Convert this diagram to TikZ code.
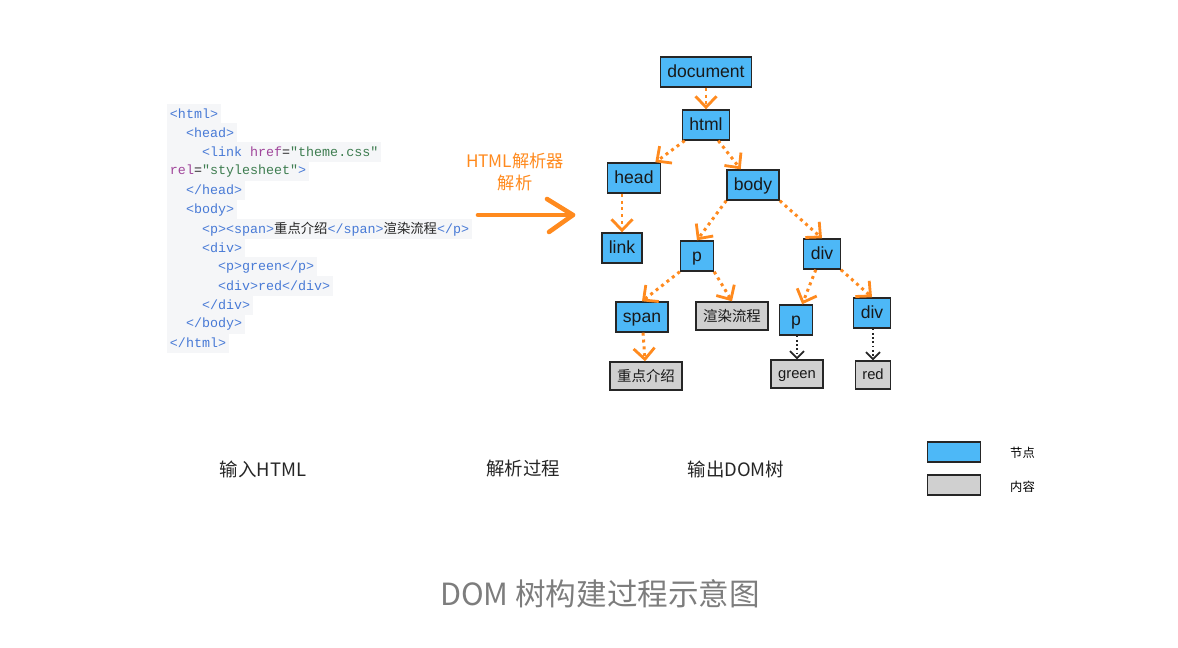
\documentclass[tikz,border=0pt]{standalone}
\usepackage{fontspec}
\setmainfont{Liberation Sans}
\setmonofont{Liberation Mono}
\newfontfamily\cjk{Noto Sans CJK SC}
\usetikzlibrary{arrows.meta}
\usetikzlibrary{positioning}
\usepackage{xcolor}

\definecolor{nodeblue}{RGB}{77,184,247}
\definecolor{contgray}{RGB}{208,208,208}
\definecolor{arrorange}{RGB}{255,138,30}
\definecolor{codebg}{RGB}{245,246,248}
\definecolor{tagblue}{RGB}{72,122,214}
\definecolor{attrpurple}{RGB}{160,70,155}
\definecolor{strgreen}{RGB}{62,125,80}
\definecolor{capgray}{RGB}{125,125,125}

\newcommand{\ctag}[1]{\textcolor{tagblue}{#1}}
\newcommand{\cattr}[1]{\textcolor{attrpurple}{#1}}
\newcommand{\cstr}[1]{\textcolor{strgreen}{#1}}
\newcommand{\ind}{\phantom{xx}}

\tikzset{
  dom/.style={draw=black!85, line width=0.8pt, fill=nodeblue, minimum height=0.6cm,
    minimum width=0.66cm, inner xsep=0.14cm, inner ysep=2pt, text=black!90,
    text height=8.6pt, text depth=2pt,
    font=\fontsize{10}{12}\selectfont},
  cont/.style={dom, fill=contgray, minimum height=0.56cm,
    text height=7pt, text depth=0.6pt,
    font=\cjk\fontsize{8.2}{10}\selectfont},
  contlat/.style={cont, text height=6.6pt, text depth=2pt,
    font=\fontsize{8.4}{10}\selectfont},
  legbox/.style={minimum width=1.06cm, minimum height=0.4cm, text height=0pt, text depth=0pt},
  oarr/.style={draw=arrorange, line width=1.7pt, dash pattern=on 1.7pt off 2.2pt,
    -{Straight Barb[length=2.2mm,width=4.2mm,line width=1.6pt]}},
  barr/.style={draw=black!85, line width=1pt, dash pattern=on 1pt off 1.4pt,
    -{Straight Barb[length=1.4mm,width=2.8mm,line width=1pt]}},
  code/.style={anchor=west, fill=codebg, inner xsep=1.5pt, inner ysep=0pt,
    minimum height=0.39cm, text=black!85, font=\ttfamily\fontsize{7.6}{9}\selectfont},
  lbl/.style={font=\cjk\fontsize{10.5}{12}\selectfont, text=black!85}
}

\begin{document}
\begin{tikzpicture}[x=0.02cm, y=-0.02cm]
  \useasboundingbox (0,0) rectangle (1178,648);

  % HTML 源码
  \node[code] (c1)  at (167,114) {\ctag{<html>}};
  \node[code] (c2)  at (167,133) {\ind\ctag{<head>}};
  \node[code] (c3)  at (167,152) {\ind\ind\ctag{<link }\cattr{href}=\cstr{"theme.css"}};
  \node[code] (c4)  at (167,171) {\cattr{rel}=\cstr{"stylesheet"}\ctag{>}};
  \node[code] (c5)  at (167,190) {\ind\ctag{</head>}};
  \node[code] (c6)  at (167,210) {\ind\ctag{<body>}};
  \node[code] (c7)  at (167,229) {\ind\ind\ctag{<p><span>}{\cjk 重点介绍}\ctag{</span>}{\cjk 渲染流程}\ctag{</p>}};
  \node[code] (c8)  at (167,248) {\ind\ind\ctag{<div>}};
  \node[code] (c9)  at (167,267) {\ind\ind\ind\ctag{<p>green</p>}};
  \node[code] (c10) at (167,286) {\ind\ind\ind\ctag{<div>red</div>}};
  \node[code] (c11) at (167,305) {\ind\ind\ctag{</div>}};
  \node[code] (c12) at (167,324) {\ind\ctag{</body>}};
  \node[code] (c13) at (167,343) {\ctag{</html>}};

  % 解析器
  \node[font=\cjk\fontsize{9.8}{11}\selectfont, text=arrorange, align=center] (parser) at (515,172)
    {HTML解析器\\[1pt]解析};
  \coordinate (ain) at (478,215);
  \coordinate (aout) at (573,215);
  \draw[arrorange, line width=2.6pt, line cap=round] (ain) -- (aout);
  \draw[arrorange, line width=2.6pt, line cap=round, line join=round]
    (547,199) -- (aout) -- (549,232);

  % DOM 树
  \node[dom] (document) at (706,72) {document};
  \node[dom] (html) at (706,125) {html};
  \node[dom] (head) at (634,178) {head};
  \node[dom] (body) at (753,185) {body};
  \node[dom] (link) at (622,248) {link};
  \node[dom] (p) at (697,256) {p};
  \node[dom] (div) at (822,254) {div};
  \node[dom] (span) at (642,317) {span};
  \node[cont] (xr) at (732,316) {渲染流程};
  \node[dom] (p2) at (796,320) {p};
  \node[dom] (div2) at (872,313) {div};
  \node[cont] (zd) at (646,376) {重点介绍};
  \node[contlat] (green) at (797,374) {green};
  \node[contlat] (red) at (873,375) {red};

  \draw[oarr] (document) -- (html);
  \draw[oarr] (html) -- (head);
  \draw[oarr] (html) -- (body);
  \draw[oarr] (head.south -| link.north) -- (link.north);
  \draw[oarr] (body.south west) -- (p.north);
  \draw[oarr] (body.south east) -- (div.north);
  \draw[oarr] (p.south west) -- (span.north);
  \draw[oarr] (p.south east) -- (xr.north);
  \draw[oarr] (span) -- (zd);
  \draw[oarr] (div) -- (p2);
  \draw[oarr] (div.south east) -- (div2.north);
  \draw[barr] (p2.south -| green.north) -- (green.north);
  \draw[barr] (div2.south -| red.north) -- (red.north);

  % 说明文字
  \node[lbl] (input) at (263,469) {输入HTML};
  \node[lbl] (proc) at (523,469) {解析过程};
  \node[lbl] (output) at (736,469) {输出DOM树};

  % 图例
  \node[dom, legbox] (lgnode) at (954,452) {};
  \node[cont, legbox] (lgcont) at (954,485) {};
  \node[font=\cjk\fontsize{7}{8}\selectfont, anchor=west] (lgnodet) at (1004,453) {节点};
  \node[font=\cjk\fontsize{7}{8}\selectfont, anchor=west] (lgcontt) at (1004,487) {内容};

  % 标题
  \node[font=\cjk\fontsize{17.4}{20}\selectfont, text=capgray] (title) at (600,594) {DOM 树构建过程示意图};
\end{tikzpicture}
\end{document}
